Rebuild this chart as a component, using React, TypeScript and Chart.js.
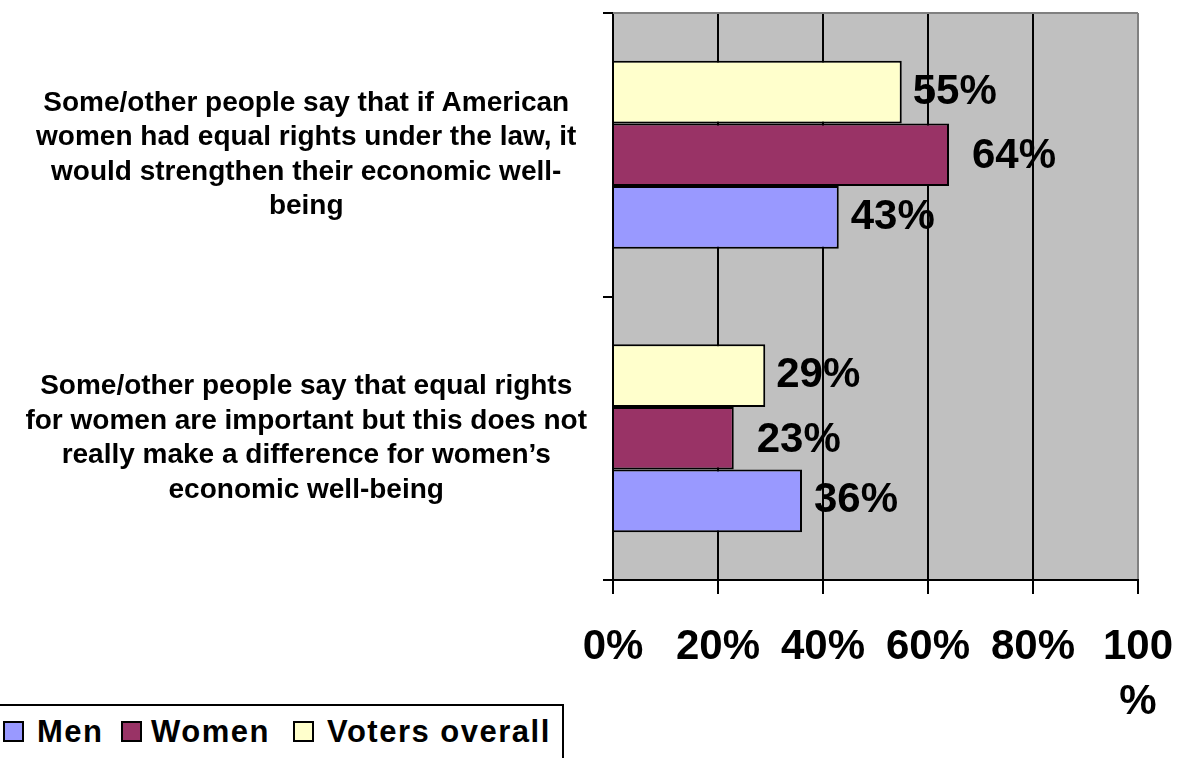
import React, { useEffect, useRef } from "react";
import { Chart, registerables } from "chart.js";

Chart.register(...registerables);

const FONT = '"Liberation Sans", Arial, Helvetica, sans-serif';

// ---- data ----
const categories: string[][] = [
  [
    "Some/other people say that if American",
    "women had equal rights under the law, it",
    "would strengthen their economic well-",
    "being",
  ],
  [
    "Some/other people say that equal rights",
    "for women are important but this does not",
    "really make a difference for women\u2019s",
    "economic well-being",
  ],
];
const seriesNames = ["Men", "Women", "Voters overall"];
const menValues = [43, 36];
const womenValues = [64, 23];
const votersValues = [55, 29];
const xTickValues = [0, 20, 40, 60, 80, 100];

// ---- styles ----
const colors = { men: "#9999FF", women: "#993366", voters: "#FFFFCC" };

export default function App() {
  const ref = useRef<HTMLCanvasElement>(null);

  useEffect(() => {
    document.body.style.margin = "0";
    const canvas = ref.current;
    if (!canvas) return;

    const plotBg = {
      id: "plotBg",
      beforeDraw(chart: any) {
        const { ctx, chartArea } = chart;
        const { left, top, right, bottom } = chartArea;
        ctx.save();
        ctx.fillStyle = "#C0C0C0";
        ctx.fillRect(left, top, right - left, bottom - top);
        ctx.restore();
      },
      beforeDatasetsDraw(chart: any) {
        const { ctx, chartArea } = chart;
        const { left, top, right } = chartArea;
        ctx.save();
        ctx.strokeStyle = "#808080";
        ctx.lineWidth = 2;
        ctx.beginPath();
        ctx.moveTo(left, top);
        ctx.lineTo(right, top);
        ctx.stroke();
        ctx.restore();
      },
    };

    const valueLabels = {
      id: "valueLabels",
      afterDatasetsDraw(chart: any, _args: any, opts: any) {
        const { ctx } = chart;
        ctx.save();
        ctx.font = `bold 42px ${FONT}`;
        ctx.fillStyle = "#000";
        ctx.textAlign = "left";
        ctx.textBaseline = "middle";
        chart.data.datasets.forEach((ds: any, di: number) => {
          const meta = chart.getDatasetMeta(di);
          const off = (opts.offsets && opts.offsets[ds.label]) || { dx: 11, dy: 0 };
          meta.data.forEach((el: any, i: number) => {
            const v = ds.data[i];
            ctx.fillText(`${v}%`, el.x + off.dx, el.y + off.dy);
          });
        });
        ctx.restore();
      },
    };

    const chart = new Chart(canvas, {
      type: "bar",
      data: {
        labels: categories,
        datasets: [
          {
            label: seriesNames[2],
            data: votersValues,
            backgroundColor: colors.voters,
            borderColor: "#000",
            borderWidth: 2,
          },
          {
            label: seriesNames[1],
            data: womenValues,
            backgroundColor: colors.women,
            borderColor: "#000",
            borderWidth: 2,
          },
          {
            label: seriesNames[0],
            data: menValues,
            backgroundColor: colors.men,
            borderColor: "#000",
            borderWidth: 2,
          },
        ],
      },
      options: {
        indexAxis: "y",
        responsive: false,
        animation: false,
        maintainAspectRatio: false,
        datasets: {
          bar: { categoryPercentage: 0.6625, barPercentage: 1.0 },
        },
        layout: { padding: { top: 13, right: 40, bottom: 0, left: 0 } },
        plugins: {
          legend: { display: false },
          tooltip: { enabled: false },
          valueLabels: {
            offsets: {
              Men: { dx: 12, dy: 0 },
              Women: { dx: 23, dy: 2 },
              "Voters overall": { dx: 11, dy: 0 },
            },
          },
        } as any,
        scales: {
          x: {
            type: "linear",
            min: 0,
            max: 100,
            afterBuildTicks: (scale: any) => {
              scale.ticks = xTickValues.map((v) => ({ value: v }));
            },
            afterFit: (scale: any) => {
              scale.height = 178;
              scale.paddingLeft = 0;
              scale.paddingRight = 0;
            },
            grid: {
              color: (ctx: any) => (ctx.tick && ctx.tick.value === 100 ? "#808080" : "#000"),
              tickColor: "#000",
              lineWidth: 2,
              tickLength: 14,
              drawTicks: true,
            },
            border: { display: true, color: "#000", width: 2 },
            ticks: {
              color: "#000",
              padding: 26,
              maxRotation: 0,
              autoSkip: false,
              font: { family: FONT, size: 42, weight: "bold", lineHeight: 1.31 },
              callback: (v: any) => (v === 100 ? ["100", "%"] : `${v}%`),
            },
          },
          y: {
            type: "category",
            afterFit: (scale: any) => {
              scale.width = 613;
              scale.paddingTop = 0;
              scale.paddingBottom = 0;
            },
            grid: {
              drawOnChartArea: false,
              drawTicks: true,
              tickLength: 10,
              color: "#000",
              lineWidth: 2,
              offset: true,
            },
            border: { display: true, color: "#000", width: 2 },
            ticks: {
              color: "#000",
              padding: 16,
              crossAlign: "center",
              autoSkip: false,
              font: { family: FONT, size: 28, weight: "bold", lineHeight: 1.235 },
            },
          },
        },
      } as any,
      plugins: [plotBg, valueLabels],
    });

    return () => chart.destroy();
  }, []);

  const legendItems = [
    { name: seriesNames[0], color: colors.men, box: 3, text: 37 },
    { name: seriesNames[1], color: colors.women, box: 121, text: 151 },
    { name: seriesNames[2], color: colors.voters, box: 293, text: 327 },
  ];

  return (
    <div style={{ position: "relative", width: 1178, height: 758, overflow: "hidden", background: "#fff" }}>
      <canvas ref={ref} width={1178} height={758} style={{ width: 1178, height: 758, display: "block" }} />
      <div
        style={{
          position: "absolute",
          left: -4,
          top: 704,
          width: 568,
          height: 80,
          border: "2px solid #000",
          background: "#fff",
          boxSizing: "border-box",
        }}
      />
      {legendItems.map((it) => (
        <React.Fragment key={it.name}>
          <div
            style={{
              position: "absolute",
              left: it.box,
              top: 721,
              width: 21,
              height: 21,
              boxSizing: "border-box",
              border: "2px solid #000",
              background: it.color,
            }}
          />
          <div
            style={{
              position: "absolute",
              left: it.text,
              top: 716,
              fontFamily: FONT,
              fontWeight: "bold",
              fontSize: 31,
              lineHeight: "31px",
              letterSpacing: "1.5px",
              color: "#000",
              whiteSpace: "nowrap",
            }}
          >
            {it.name}
          </div>
        </React.Fragment>
      ))}
    </div>
  );
}
